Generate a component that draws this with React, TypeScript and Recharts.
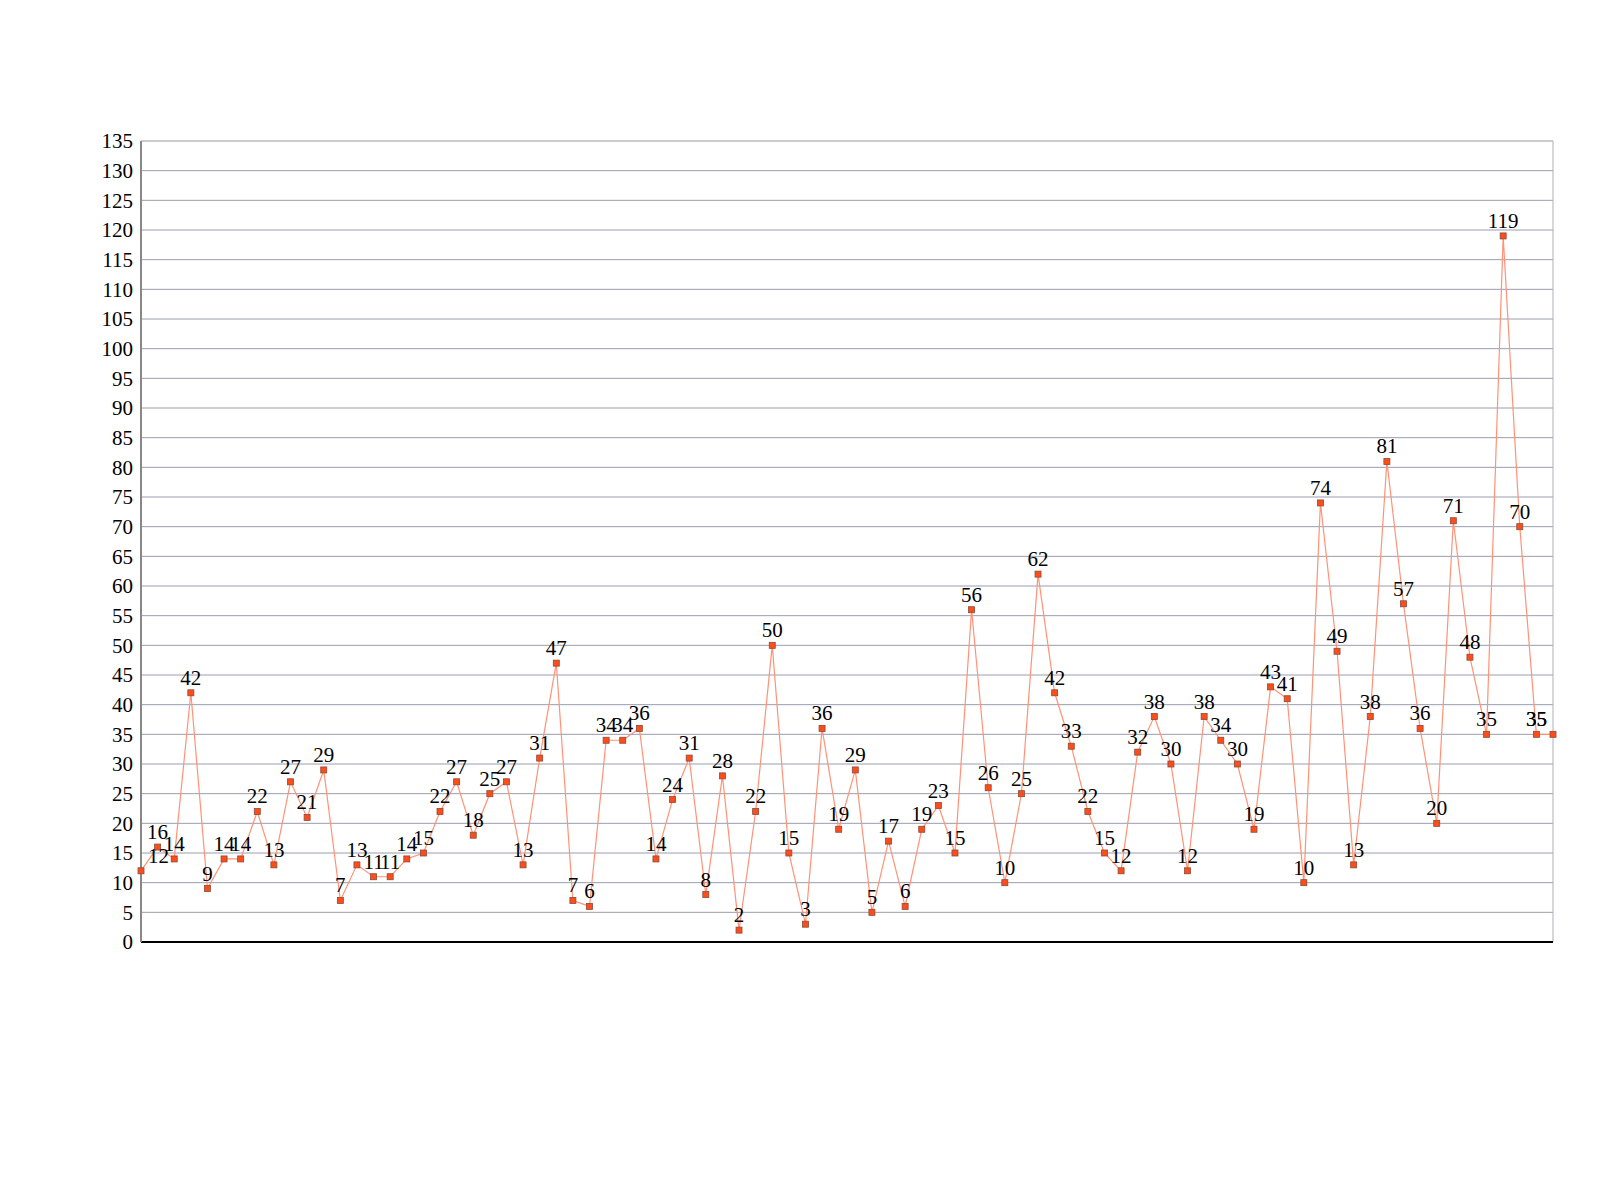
import React from 'react';
import { LineChart, Line, XAxis, YAxis, CartesianGrid, LabelList, ReferenceLine } from 'recharts';

const categories: string[] = [
  'p1','p2','p3','p4','p5','p6','p7','p8','p9','p10',
  'p11','p12','p13','p14','p15','p16','p17','p18','p19','p20',
  'p21','p22','p23','p24','p25','p26','p27','p28','p29','p30',
  'p31','p32','p33','p34','p35','p36','p37','p38','p39','p40',
  'p41','p42','p43','p44','p45','p46','p47','p48','p49','p50',
  'p51','p52','p53','p54','p55','p56','p57','p58','p59','p60',
  'p61','p62','p63','p64','p65','p66','p67','p68','p69','p70',
  'p71','p72','p73','p74','p75','p76','p77','p78','p79','p80',
  'p81','p82','p83','p84','p85','p86',
];

const values: number[] = [
  12, 16, 14, 42, 9, 14, 14, 22, 13, 27,
  21, 29, 7, 13, 11, 11, 14, 15, 22, 27,
  18, 25, 27, 13, 31, 47, 7, 6, 34, 34,
  36, 14, 24, 31, 8, 28, 2, 22, 50, 15,
  3, 36, 19, 29, 5, 17, 6, 19, 23, 15,
  56, 26, 10, 25, 62, 42, 33, 22, 15, 12,
  32, 38, 30, 12, 38, 34, 30, 19, 43, 41,
  10, 74, 49, 13, 38, 81, 57, 36, 20, 71,
  48, 35, 119, 70, 35, 35,
];

const yTicks: number[] = [0,5,10,15,20,25,30,35,40,45,50,55,60,65,70,75,80,85,90,95,100,105,110,115,120,125,130,135];

const data = categories.map((c, i) => ({ cat: c, v: values[i] }));

const FONT = '"Liberation Serif", "DejaVu Serif", serif';

const SquareDot = (props: any) => {
  const { cx, cy } = props;
  if (cx == null || cy == null) return null;
  return <rect x={cx - 3} y={cy - 3} width={6} height={6} fill="#ff4d1a" stroke="#8a4a3a" strokeWidth={0.8} />;
};

const PointLabel = (props: any) => {
  const { x, y, value, index } = props;
  let anchor: 'middle' | 'start' | 'end' = 'middle';
  let tx = x;
  if (index === 0) { anchor = 'start'; tx = x + 7; }
  if (index === values.length - 1) { anchor = 'end'; tx = x - 6; }
  return (
    <text x={tx} y={y - 8} textAnchor={anchor} fontFamily={FONT} fontSize={21} fill="#000">
      {value}
    </text>
  );
};

export default function App() {
  return (
    <div style={{ position: 'absolute', left: 0, top: 0, width: 1600, height: 1177, background: '#fff' }}>
      <LineChart
        width={1600}
        height={1177}
        data={data}
        margin={{ top: 141, right: 47, bottom: 205, left: 81 }}
      >
        <CartesianGrid vertical={false} stroke="#9a9db0" strokeWidth={1} />
        <XAxis
          dataKey="cat"
          scale="point"
          padding={{ left: 0, right: 0 }}
          tick={false}
          tickLine={false}
          axisLine={{ stroke: '#000', strokeWidth: 2 }}
          height={30}
        />
        <YAxis
          domain={[0, 135]}
          ticks={yTicks}
          interval={0}
          width={60}
          tickLine={false}
          axisLine={{ stroke: '#888', strokeWidth: 2 }}
          tick={{ fontFamily: FONT, fontSize: 21, fill: '#000' }}
        />
        <ReferenceLine x={categories[categories.length - 1]} stroke="#b0b0b8" strokeWidth={1} />
        <ReferenceLine y={135} stroke="#c8c8cc" strokeWidth={1} />
        <Line
          type="linear"
          dataKey="v"
          stroke="#ff9277"
          strokeWidth={1.2}
          dot={<SquareDot />}
          activeDot={false}
          isAnimationActive={false}
        >
          <LabelList dataKey="v" content={<PointLabel />} />
        </Line>
      </LineChart>
    </div>
  );
}
